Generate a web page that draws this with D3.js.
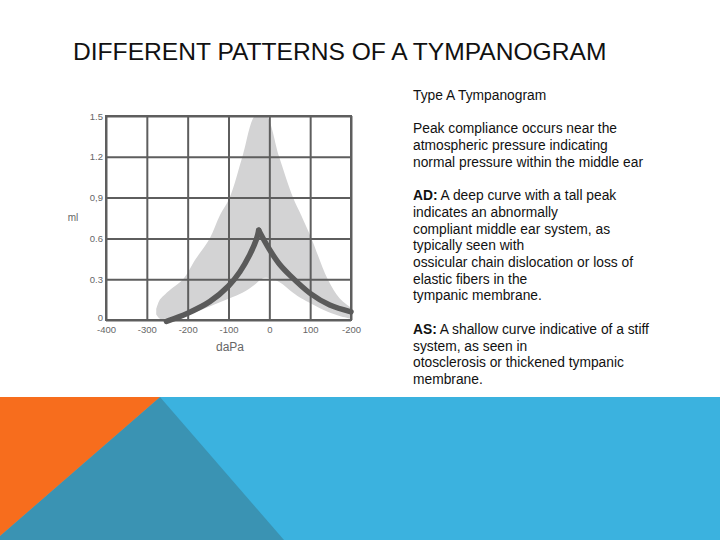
<!DOCTYPE html>
<html>
<head>
<meta charset="utf-8">
<script src="https://cdn.jsdelivr.net/npm/d3@7"></script>
<style>
  body { margin: 0; background: #fff; }
  svg { display: block; }
</style>
</head>
<body>
<div class="slide"></div>
<script>
// tick values and the labels printed on the picture
var pressureTicks = [-400, -300, -200, -100, 0, 100, 200];
var pressureLabels = ["-400", "-300", "-200", "-100", "0", "100", "-200"];
var complianceTicks = [0, 0.3, 0.6, 0.9, 1.2, 1.5];
var complianceLabels = ["0", "0.3", "0.6", "0,9", "1.2", "1.5"];

// shaded normal range (upper / lower edge)
var bandPressure = [-277, -268, -255, -240, -211, -180, -146, -121, -97, -66, -36, -20, -6, 24, 58, 78, 103, 143, 172, 200];
var bandUpper    = [0.08, 0.15, 0.19, 0.23, 0.30, 0.45, 0.60, 0.77, 0.90, 1.20, 1.50, 1.52, 1.50, 1.20, 0.90, 0.77, 0.60, 0.30, 0.16, 0.09];
var bandLower    = [0.04, 0.01, 0.01, 0.015, 0.03, 0.06, 0.10, 0.13, 0.16, 0.20, 0.26, 0.30, 0.31, 0.28, 0.20, 0.16, 0.12, 0.06, 0.03, 0.01];

// type A curve, rising and falling branch
var risePressure = [-252, -200, -146, -100, -72, -48, -32, -26];
var riseCompliance = [-0.01, 0.05, 0.135, 0.25, 0.355, 0.48, 0.59, 0.66];
var fallPressure = [-26, 0, 25, 50, 100, 148, 200];
var fallCompliance = [0.66, 0.52, 0.41, 0.33, 0.196, 0.11, 0.06];

// text on the right
var notes = [
  [{t: "Type A Tympanogram"}],
  [],
  [{t: "Peak compliance occurs near the"}],
  [{t: "atmospheric pressure indicating"}],
  [{t: "normal pressure within the middle ear"}],
  [],
  [{t: "AD:", b: true}, {t: " A deep curve with a tall peak"}],
  [{t: "indicates an abnormally"}],
  [{t: "compliant middle ear system, as"}],
  [{t: "typically seen with"}],
  [{t: "ossicular chain dislocation or loss of"}],
  [{t: "elastic fibers in the"}],
  [{t: "tympanic membrane."}],
  [],
  [{t: "AS:", b: true}, {t: " A shallow curve indicative of a stiff"}],
  [{t: "system, as seen in"}],
  [{t: "otosclerosis or thickened tympanic"}],
  [{t: "membrane."}]
];

var W = 720, H = 540;
var canvas = d3.select(".slide").append("svg")
  .attr("width", W)
  .attr("height", H);

// bottom decoration
canvas.append("rect")
  .attr("x", 0).attr("y", 397).attr("width", W).attr("height", H - 397)
  .attr("fill", "#3bb2df");
canvas.append("polygon")
  .attr("points", "160,397 284,540 0,540 0,536")
  .attr("fill", "#3a93b3");
canvas.append("polygon")
  .attr("points", "0,397 160,397 0,536")
  .attr("fill", "#f76d1d");

// title
canvas.append("text")
  .attr("x", 73)
  .attr("y", 60)
  .attr("font-family", "Liberation Sans, Arial, sans-serif")
  .attr("font-size", "24.6px")
  .attr("fill", "#111")
  .text("DIFFERENT PATTERNS OF A TYMPANOGRAM");

// chart box
var pLeft = 106, pRight = 351, pTop = 116, pBottom = 320;
var x = d3.scaleLinear().domain([-400, 200]).range([pLeft, pRight]);
var y = d3.scaleLinear().domain([0, 1.5]).range([pBottom, pTop]);

canvas.append("clipPath").attr("id", "plotClip")
  .append("rect")
  .attr("x", pLeft).attr("y", pTop)
  .attr("width", pRight - pLeft).attr("height", pBottom - pTop + 4);

var band = d3.area()
  .x(function(d) { return x(d.p); })
  .y0(function(d) { return y(d.lo); })
  .y1(function(d) { return y(d.hi); })
  .curve(d3.curveCatmullRom.alpha(0.5));

var bandData = bandPressure.map(function(p, i) {
  return {p: p, hi: bandUpper[i], lo: bandLower[i]};
});

canvas.append("path")
  .datum(bandData)
  .attr("d", band)
  .attr("clip-path", "url(#plotClip)")
  .attr("fill", "#d3d3d4");

var gridCol = "#5e5e5e";

var xAxis = canvas.append("g")
  .attr("transform", "translate(0," + pBottom + ")")
  .call(d3.axisBottom(x)
    .tickValues(pressureTicks)
    .tickFormat(function(d, i) { return pressureLabels[i]; })
    .tickSize(-(pBottom - pTop))
    .tickPadding(6));

var yAxis = canvas.append("g")
  .attr("transform", "translate(" + pLeft + ",0)")
  .call(d3.axisLeft(y)
    .tickValues(complianceTicks)
    .tickFormat(function(d, i) { return complianceLabels[i]; })
    .tickSize(-(pRight - pLeft))
    .tickPadding(3));

[xAxis, yAxis].forEach(function(g) {
  g.select(".domain").remove();
  g.selectAll(".tick line")
    .attr("stroke", gridCol)
    .attr("stroke-width", 2);
  g.selectAll(".tick text")
    .attr("font-family", "Liberation Sans, Arial, sans-serif")
    .attr("font-size", "9.5px")
    .attr("fill", "#666");
});
// lift the zero label a little, as on the picture
yAxis.selectAll(".tick text").filter(function(d) { return d == 0; }).attr("dy", "0.1em");

canvas.append("rect")
  .attr("x", pLeft).attr("y", pTop)
  .attr("width", pRight - pLeft).attr("height", pBottom - pTop)
  .attr("fill", "none")
  .attr("stroke", gridCol)
  .attr("stroke-width", 2);

// the curve
var line = d3.line()
  .x(function(d) { return x(d[0]); })
  .y(function(d) { return y(d[1]); })
  .curve(d3.curveCatmullRom.alpha(0.5));

[[risePressure, riseCompliance], [fallPressure, fallCompliance]].forEach(function(s) {
  canvas.append("path")
    .datum(s[0].map(function(p, i) { return [p, s[1][i]]; }))
    .attr("d", line)
    .attr("fill", "none")
    .attr("stroke", "#5a5a5a")
    .attr("stroke-width", 5.5)
    .attr("stroke-linecap", "round")
    .attr("stroke-linejoin", "round");
});

// axis names
canvas.append("text")
  .attr("x", 230).attr("y", 351)
  .attr("text-anchor", "middle")
  .attr("font-family", "Liberation Sans, Arial, sans-serif")
  .attr("font-size", "12px")
  .attr("fill", "#666")
  .text("daPa");

canvas.append("text")
  .attr("x", 73).attr("y", 221)
  .attr("text-anchor", "middle")
  .attr("font-family", "Liberation Sans, Arial, sans-serif")
  .attr("font-size", "10px")
  .attr("fill", "#666")
  .text("ml");

// right hand notes
var notesG = canvas.append("text")
  .attr("font-family", "Liberation Sans, Arial, sans-serif")
  .attr("font-size", "13.8px")
  .attr("fill", "#111");

notes.forEach(function(parts, i) {
  if (parts.length == 0) return;
  parts.forEach(function(p, j) {
    var s = notesG.append("tspan").text(p.t);
    if (j == 0) s.attr("x", 413).attr("y", 100 + i * 16.7);
    if (p.b) s.attr("font-weight", "bold");
  });
});
</script>
</body>
</html>
